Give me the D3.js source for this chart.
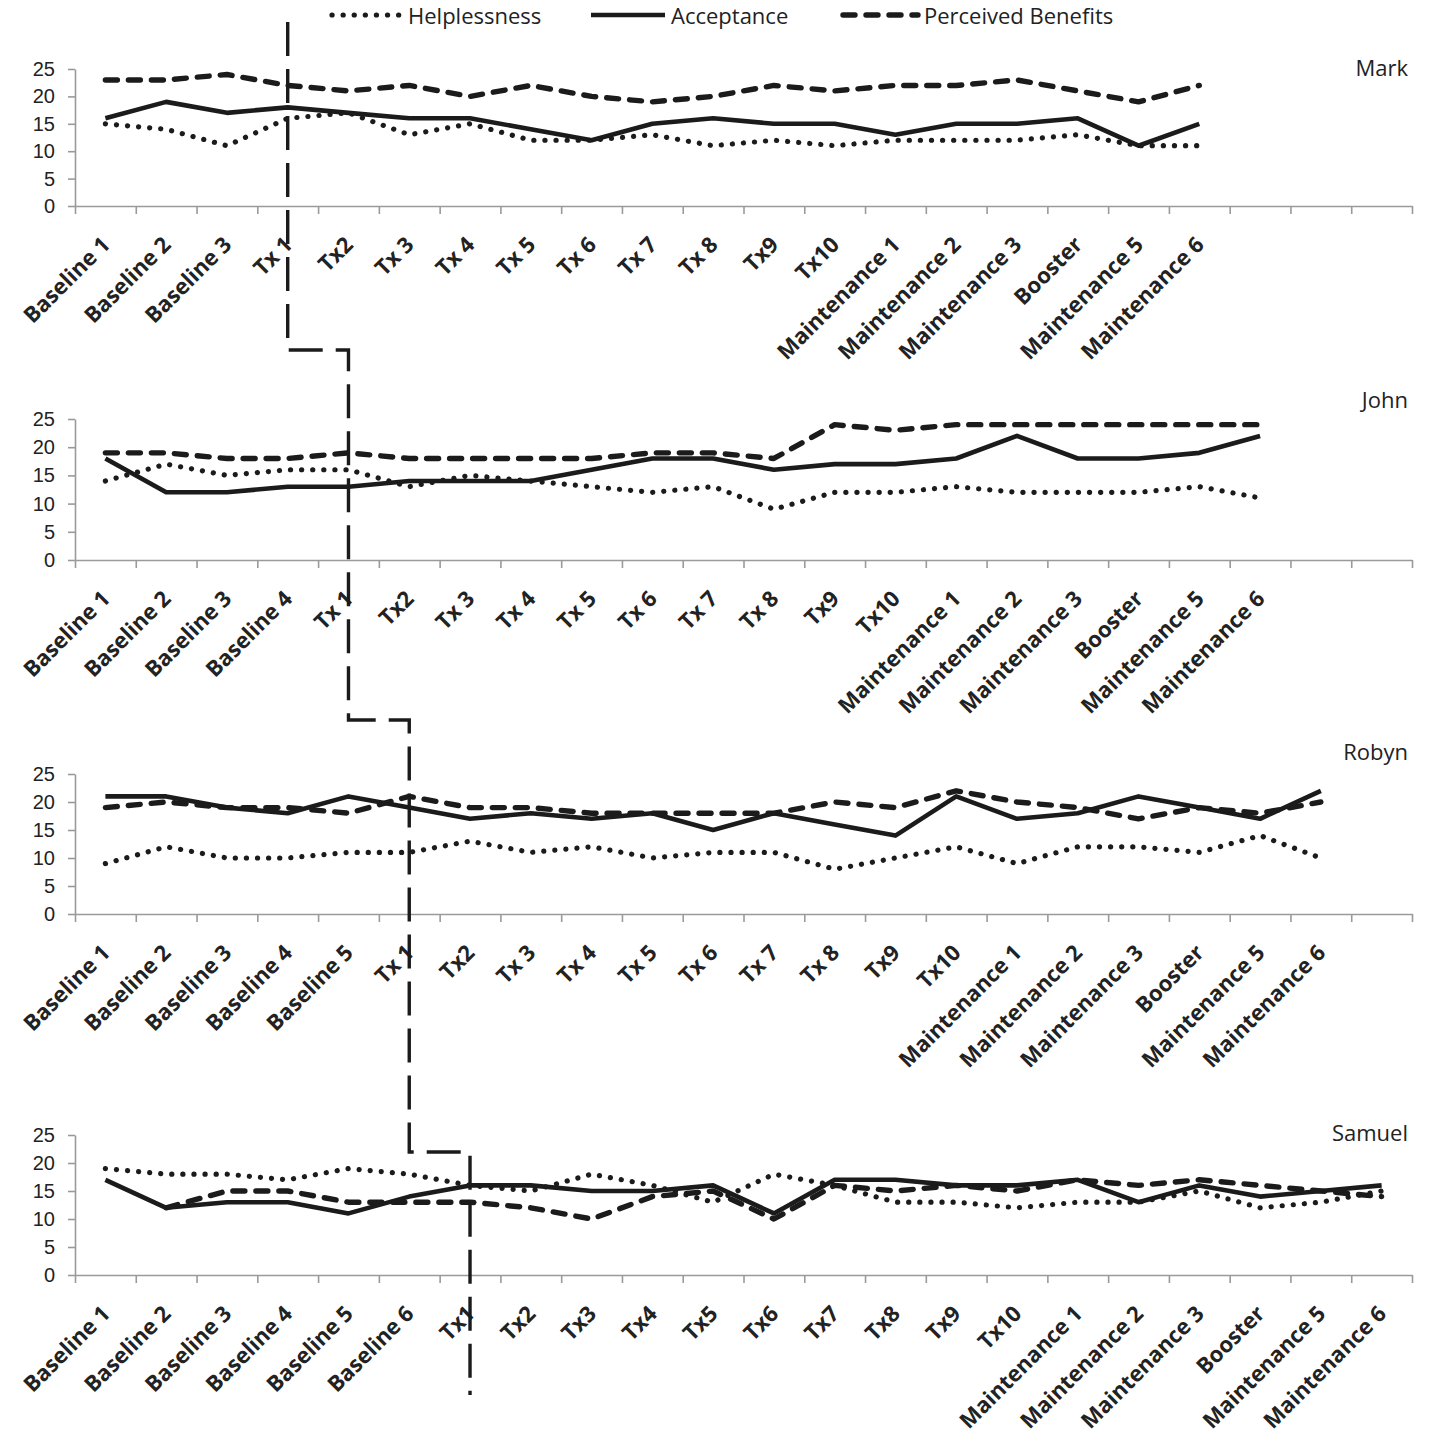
<!DOCTYPE html>
<html>
<head>
<meta charset="utf-8">
<script src="https://cdn.jsdelivr.net/npm/d3@7/dist/d3.min.js"></script>
<style>
  body { margin: 0; background: #fff; }
  svg { display: block; font-family: "Open Sans", "Noto Sans", sans-serif; }
  .axis path, .axis line { stroke: #9a9a9a; stroke-width: 1.6px; }
  .axis text { fill: #222; }
</style>
</head>
<body>
<div id="container"></div>
<script>
//Series names shown in the legend
var seriesNames = ["Helplessness", "Acceptance", "Perceived Benefits"];

//Participants, one panel each
var participants = ["Mark", "John", "Robyn", "Samuel"];

//Session labels per participant
var markSessions = ["Baseline 1", "Baseline 2", "Baseline 3", "Tx 1", "Tx2", "Tx 3", "Tx 4", "Tx 5", "Tx 6", "Tx 7", "Tx 8", "Tx9", "Tx10",
    "Maintenance 1", "Maintenance 2", "Maintenance 3", "Booster", "Maintenance 5", "Maintenance 6"];
var johnSessions = ["Baseline 1", "Baseline 2", "Baseline 3", "Baseline 4", "Tx 1", "Tx2", "Tx 3", "Tx 4", "Tx 5", "Tx 6", "Tx 7", "Tx 8", "Tx9", "Tx10",
    "Maintenance 1", "Maintenance 2", "Maintenance 3", "Booster", "Maintenance 5", "Maintenance 6"];
var robynSessions = ["Baseline 1", "Baseline 2", "Baseline 3", "Baseline 4", "Baseline 5", "Tx 1", "Tx2", "Tx 3", "Tx 4", "Tx 5", "Tx 6", "Tx 7", "Tx 8", "Tx9", "Tx10",
    "Maintenance 1", "Maintenance 2", "Maintenance 3", "Booster", "Maintenance 5", "Maintenance 6"];
var samuelSessions = ["Baseline 1", "Baseline 2", "Baseline 3", "Baseline 4", "Baseline 5", "Baseline 6", "Tx1", "Tx2", "Tx3", "Tx4", "Tx5", "Tx6", "Tx7", "Tx8", "Tx9", "Tx10",
    "Maintenance 1", "Maintenance 2", "Maintenance 3", "Booster", "Maintenance 5", "Maintenance 6"];

//Scores per participant
var markHelplessness = [15, 14, 11, 16, 17, 13, 15, 12, 12, 13, 11, 12, 11, 12, 12, 12, 13, 11, 11];
var markAcceptance = [16, 19, 17, 18, 17, 16, 16, 14, 12, 15, 16, 15, 15, 13, 15, 15, 16, 11, 15];
var markBenefits = [23, 23, 24, 22, 21, 22, 20, 22, 20, 19, 20, 22, 21, 22, 22, 23, 21, 19, 22];

var johnHelplessness = [14, 17, 15, 16, 16, 13, 15, 14, 13, 12, 13, 9, 12, 12, 13, 12, 12, 12, 13, 11];
var johnAcceptance = [18, 12, 12, 13, 13, 14, 14, 14, 16, 18, 18, 16, 17, 17, 18, 22, 18, 18, 19, 22];
var johnBenefits = [19, 19, 18, 18, 19, 18, 18, 18, 18, 19, 19, 18, 24, 23, 24, 24, 24, 24, 24, 24];

var robynHelplessness = [9, 12, 10, 10, 11, 11, 13, 11, 12, 10, 11, 11, 8, 10, 12, 9, 12, 12, 11, 14, 10];
var robynAcceptance = [21, 21, 19, 18, 21, 19, 17, 18, 17, 18, 15, 18, 16, 14, 21, 17, 18, 21, 19, 17, 22];
var robynBenefits = [19, 20, 19, 19, 18, 21, 19, 19, 18, 18, 18, 18, 20, 19, 22, 20, 19, 17, 19, 18, 20];

var samuelHelplessness = [19, 18, 18, 17, 19, 18, 16, 15, 18, 16, 13, 18, 16, 13, 13, 12, 13, 13, 15, 12, 13, 15];
var samuelAcceptance = [17, 12, 13, 13, 11, 14, 16, 16, 15, 15, 16, 11, 17, 17, 16, 16, 17, 13, 16, 14, 15, 16];
var samuelBenefits = [null, 12, 15, 15, 13, 13, 13, 12, 10, 14, 15, 10, 16, 15, 16, 15, 17, 16, 17, 16, 15, 14];

//Y axis ticks
var yTicks = [0, 5, 10, 15, 20, 25];

//Build panel table from the arrays above
var sessions = [markSessions, johnSessions, robynSessions, samuelSessions];
var scores = [
    [markHelplessness, markAcceptance, markBenefits],
    [johnHelplessness, johnAcceptance, johnBenefits],
    [robynHelplessness, robynAcceptance, robynBenefits],
    [samuelHelplessness, samuelAcceptance, samuelBenefits]
];

//Layout of each panel (plot top = 25, plot bottom = 0, name label baseline)
var panelTop = [69, 419, 774, 1135],
    panelBottom = [206, 560, 914, 1275],
    nameY = [76, 408, 760, 1141];

var width = 1439,
    height = 1451,
    left = 75,
    right = 1412,
    slots = 22;

var svg = d3.select("#container").append("svg")
    .attr("width", width)
    .attr("height", height);

//Line styles for the three series
var styles = [
    { dash: "0.1,11", width: 5.2, cap: "round" },
    { dash: null, width: 4.6, cap: "butt" },
    { dash: "12,11", width: 5.4, cap: "round" }
];

//Shared x scales: band for points, linear for the tick marks between categories
var x = d3.scaleBand().domain(d3.range(slots)).range([left, right]).padding(0);
var xEdge = d3.scaleLinear().domain([0, slots]).range([left, right]);

var tx1X = [];

participants.forEach(function (name, p) {
    var y = d3.scaleLinear().domain([0, 25]).range([panelBottom[p], panelTop[p]]);
    var g = svg.append("g");

    //Y axis
    g.append("g")
        .attr("class", "axis")
        .attr("transform", "translate(" + left + ",0)")
        .call(d3.axisLeft(y).tickValues(yTicks).tickSize(7).tickSizeOuter(0).tickPadding(13))
        .selectAll("text")
        .style("font-size", "20px");

    //X axis, tick marks between categories
    g.append("g")
        .attr("class", "axis")
        .attr("transform", "translate(0," + panelBottom[p] + ")")
        .call(d3.axisBottom(xEdge).tickValues(d3.range(slots + 1)).tickFormat("").tickSize(8).tickSizeOuter(0));

    //Rotated session labels
    g.selectAll(".xlabel")
        .data(sessions[p])
        .enter().append("text")
        .attr("class", "xlabel")
        .attr("transform", function (d, i) {
            return "translate(" + (x(i) + x.bandwidth() / 2 + 6) + "," + (panelBottom[p] + 40) + ") rotate(-45)";
        })
        .attr("text-anchor", "end")
        .style("font-size", "22px")
        .style("font-weight", 700)
        .style("fill", "#222")
        .text(function (d) { return d; });

    //Series lines
    var line = d3.line()
        .defined(function (d) { return d != null; })
        .x(function (d, i) { return x(i) + x.bandwidth() / 2; })
        .y(function (d) { return y(d); });

    scores[p].forEach(function (values, s) {
        g.append("path")
            .datum(values)
            .attr("d", line)
            .attr("fill", "none")
            .attr("stroke", "#1b1b1b")
            .attr("stroke-width", styles[s].width)
            .attr("stroke-linecap", styles[s].cap)
            .attr("stroke-linejoin", "round")
            .attr("stroke-dasharray", styles[s].dash);
    });

    //Participant name
    g.append("text")
        .attr("x", 1408)
        .attr("y", nameY[p])
        .attr("text-anchor", "end")
        .style("font-size", "22px")
        .style("fill", "#222")
        .text(name);

    var t = sessions[p].findIndex(function (d) { return d.replace(" ", "") === "Tx1"; });
    tx1X.push(x(t) + x.bandwidth() / 2);
});

//Phase change line running through every panel at the first treatment session
var stepY = [22, 350, 720, 1152, 1395];
var phase = d3.path();
phase.moveTo(tx1X[0], stepY[0]);
tx1X.forEach(function (xv, i) {
    if (i > 0) phase.lineTo(xv, stepY[i]);
    phase.lineTo(xv, stepY[i + 1]);
});
svg.append("path")
    .attr("d", phase.toString())
    .attr("fill", "none")
    .attr("stroke", "#1b1b1b")
    .attr("stroke-width", 3.4)
    .attr("stroke-dasharray", "34,13");

//Legend
var legendX = [330, 591, 841],
    legendLen = [72, 74, 77];
var legend = svg.append("g");
seriesNames.forEach(function (name, s) {
    legend.append("line")
        .attr("x1", legendX[s] + (styles[s].cap === "round" ? 2 : 0))
        .attr("x2", legendX[s] + legendLen[s])
        .attr("y1", 15).attr("y2", 15)
        .attr("stroke", "#1b1b1b")
        .attr("stroke-width", styles[s].width)
        .attr("stroke-linecap", styles[s].cap)
        .attr("stroke-dasharray", styles[s].dash);
    legend.append("text")
        .attr("x", legendX[s] + legendLen[s] + 6)
        .attr("y", 24)
        .style("font-size", "22px")
        .style("fill", "#222")
        .text(name);
});
</script>
</body>
</html>
